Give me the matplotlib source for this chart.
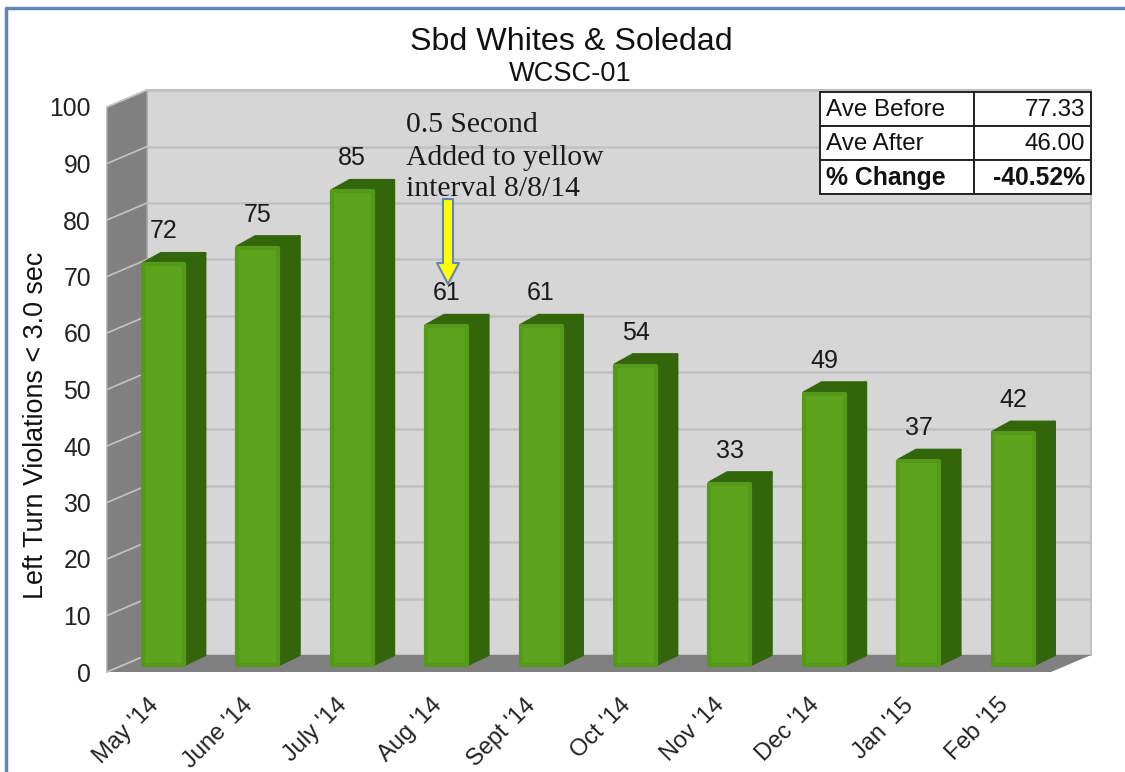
import matplotlib
matplotlib.use("Agg")
import matplotlib.pyplot as plt
from matplotlib.patches import Polygon, Rectangle

plt.rcParams['font.family'] = ['Liberation Sans', 'DejaVu Sans']

months = ["May '14", "June '14", "July '14", "Aug '14", "Sept '14",
          "Oct '14", "Nov '14", "Dec '14", "Jan '15", "Feb '15"]
violations = [72, 75, 85, 61, 61, 54, 33, 49, 37, 42]
yticks = list(range(0, 101, 10))
table_rows = [["Ave Before", "77.33"], ["Ave After", "46.00"], ["% Change", "-40.52%"]]

W, H = 1125, 772
FRONT = '#5ba41c'
EDGE = '#55991a'
SIDE = '#33650b'
WALL = '#d6d6d6'
DARK = '#808080'
GRID = '#c0c0c0'
BLUE = '#5f86b8'

fig = plt.figure(figsize=(W / 100, H / 100), dpi=100)
# axes are the front plane of the fake 3d box
left, right, bottom, top = 107, 1051, 672, 107
ax = fig.add_axes([left / W, 1 - bottom / H, (right - left) / W, (bottom - top) / H])
ax.set_xlim(-0.5, 9.5)
ax.set_ylim(0, 100)
for s in ax.spines.values():
    s.set_visible(False)
ax.patch.set_visible(False)

# one pixel in data units
px = 10 / (right - left)
py = 100 / (bottom - top)
def X(p):
    return -0.5 + (p - left) * px
def Y(p):
    return (bottom - p) * py

x0, x1 = -0.5, 9.5
dx, dy = 40 * px, 17 * py
ytop = 100

def poly(pts, fc, ec='none', lw=0, z=1):
    ax.add_patch(Polygon(pts, closed=True, facecolor=fc, edgecolor=ec, linewidth=lw,
                         zorder=z, clip_on=False, joinstyle='round'))

# walls and floor
poly([(x0 + dx, dy), (x1 + dx, dy), (x1 + dx, ytop + dy), (x0 + dx, ytop + dy)], WALL, GRID, 1.5)
poly([(x0, 0), (x0 + dx, dy), (x0 + dx, ytop + dy), (x0, ytop)], DARK, '#a8a8a8', 1)
poly([(x0, 0), (x0 + dx, dy), (x1 + dx, dy), (x1, 0)], DARK)

for v in yticks[1:]:
    ax.plot([x0 + dx, x1 + dx], [v + dy, v + dy], color=GRID, lw=1.8, zorder=2, clip_on=False,
            solid_capstyle='butt')
for v in yticks:
    ax.plot([x0, x0 + dx], [v, v + dy], color='#c4c4c4', lw=1.2, zorder=2, clip_on=False)

# bars: front face plus side and top, bars sit a bit further back so scale is smaller
scale = 5.62 / 5.65
edge_pt = 3
edge_px = edge_pt * 100 / 72 / 2
bw = (45 - 2 * edge_px) * px
ox = 9.3 * px
oy = (5 + edge_px) * py
sx, sy = 20 * px, 10 * py
for i, v in enumerate(violations):
    c = i + ox
    h = v * scale - 2 * edge_px * py
    l, r = c - bw / 2 - edge_px * px, c + bw / 2 + edge_px * px
    t = h + oy + edge_px * py
    poly([(r - 2 * px, oy), (r + sx - 1 * px, oy + sy), (r + sx - 1 * px, t + sy - 1 * py), (r - 2 * px, t)],
         SIDE, SIDE, 2, z=3)
    poly([(l + 2 * px, t - 1 * py), (l + sx, t + sy - 1 * py), (r + sx - 1 * px, t + sy - 1 * py), (r, t - 1 * py)],
         SIDE, SIDE, 2, z=3)
    bars = ax.bar(c, h, bw, bottom=oy, color=FRONT, edgecolor=EDGE, linewidth=edge_pt, zorder=4, clip_on=False)
    bars[0].set_joinstyle('round')
    ax.text(c, t + 31 * py, str(v), ha='center', va='center',
            fontsize=18, color='#1a1a1a', zorder=6)

# labels sit a little left of the category centre
ax.set_xticks([i - 7 * px for i in range(len(months))])
ax.set_xticklabels(months, rotation=45, ha='right', rotation_mode='anchor', fontsize=17, color='#222222')
ax.set_yticks(yticks)
ax.tick_params(axis='x', length=0, pad=16)
ax.tick_params(axis='y', length=0, pad=11.5, labelsize=17.8, labelcolor='#222222')
ax.set_ylabel("Left Turn Violations < 3.0 sec", fontsize=19.4, color='#111111', va='center')
ax.yaxis.set_label_coords((36 - left) / (right - left), (bottom - 425) / (bottom - top))

fig.text(571 / W, 1 - 42 / H, "Sbd Whites & Soledad", ha='center', va='center', fontsize=23.2, color='#111111')
fig.text(570.5 / W, 1 - 74 / H, "WCSC-01", ha='center', va='center', fontsize=19.6, color='#111111')

# note and yellow arrow
note = ["0.5 Second", "Added to yellow", "interval 8/8/14"]
for line, yp in zip(note, [125, 158, 189]):
    ax.text(X(406), Y(yp), line, family=['Liberation Serif'], fontsize=21.3, va='center', zorder=7, color='#1a1a1a')
poly([(X(443), Y(199)), (X(453), Y(199)), (X(453), Y(263)), (X(459), Y(263)), (X(448), Y(284)),
      (X(437), Y(263)), (X(443), Y(263))], '#ffff00', BLUE, 1.5, z=7)

# summary table
tx, tw = [820, 974, 1091], [92, 126, 160, 194]
for r, row in enumerate(table_rows):
    weight = 'bold' if r == 2 else 'normal'
    size = 17.8 if r == 2 else 17.4
    for c in range(2):
        ax.add_patch(Rectangle((X(tx[c]), Y(tw[r + 1])), (tx[c + 1] - tx[c]) * px, (tw[r + 1] - tw[r]) * py,
                               facecolor='white', edgecolor='#222222', linewidth=1.4, zorder=8, clip_on=False))
    ymid = Y((tw[r] + tw[r + 1]) / 2 + 1)
    ax.text(X(826), ymid, row[0], ha='left', va='center', fontsize=size, weight=weight, zorder=9, color='#111111')
    ax.text(X(1085), ymid, row[1], ha='right', va='center', fontsize=size, weight=weight, zorder=9, color='#111111')

# outer blue frame
fig.add_artist(plt.Line2D([6 / W, 6 / W, 1 - 0.5 / W], [0, 1 - 8 / H, 1 - 8 / H], color=BLUE, lw=2.5))

fig.savefig('out.png', dpi=100)
